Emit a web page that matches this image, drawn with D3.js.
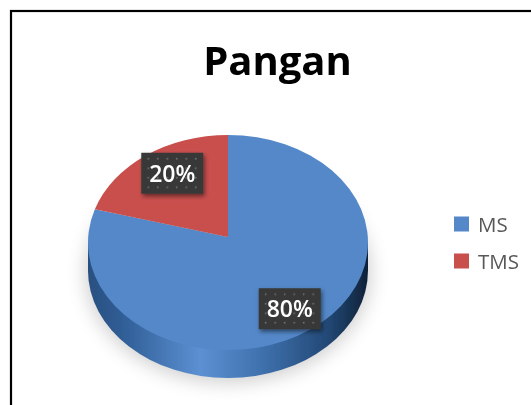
<!DOCTYPE html>
<html><head><meta charset="utf-8">
<script src="https://cdn.jsdelivr.net/npm/d3@7"></script>
<style>html,body{margin:0;padding:0;background:#fff;overflow:hidden}svg{display:block}
text{font-family:"Open Sans","Noto Sans",sans-serif}</style></head><body>
<script>
const chartTitle = "Pangan";
const categories = ["MS", "TMS"];
const seriesValues = [80, 20];
const seriesColors = ["#5488c9", "#c9504e"];

const W = 531, H = 405, cx = 228, cy = 242.5, apexY = 237, rx = 140, ry = 107.5, depth = 28;
const svg = d3.select("body").append("svg").attr("width", W).attr("height", H);
const defs = svg.append("defs");

const soft = defs.append("filter").attr("id", "soft").attr("x", "-5%").attr("y", "-5%").attr("width", "110%").attr("height", "110%");
soft.append("feGaussianBlur").attr("stdDeviation", 0.55);
const sh = defs.append("filter").attr("id", "pieShadow").attr("x", "-30%").attr("y", "-30%").attr("width", "160%").attr("height", "160%");
sh.append("feGaussianBlur").attr("stdDeviation", 10);
const ls = defs.append("filter").attr("id", "labelShadow").attr("x", "-30%").attr("y", "-30%").attr("width", "160%").attr("height", "160%");
ls.append("feDropShadow").attr("dx", 1.5).attr("dy", 2.5).attr("stdDeviation", 2).attr("flood-color", "#000").attr("flood-opacity", 0.5);

const grad = defs.append("linearGradient").attr("id", "side").attr("gradientUnits", "userSpaceOnUse")
  .attr("x1", cx - rx).attr("x2", cx + rx).attr("y1", 0).attr("y2", 0);
[[0, "#2a5080"], [0.12, "#2f5d95"], [0.4, "#5b90d2"], [0.62, "#3f71ad"], [0.85, "#234a78"], [1, "#0f2238"]]
  .forEach(([o, c]) => grad.append("stop").attr("offset", o).attr("stop-color", c));

const dots = defs.append("pattern").attr("id", "dots").attr("patternUnits", "userSpaceOnUse").attr("width", 9.5).attr("height", 9.5);
dots.append("rect").attr("width", 9.5).attr("height", 9.5).attr("fill", "#383838");
dots.append("circle").attr("cx", 4.5).attr("cy", 4.5).attr("r", 0.9).attr("fill", "#6e6e6e");

// frame (left and top edges visible, the others run off the crop)
svg.append("rect").attr("x", 11).attr("y", 11).attr("width", W + 20).attr("height", H + 20)
  .attr("fill", "#fff").attr("stroke", "#000").attr("stroke-width", 2.2);

const root = svg.append("g").attr("filter", "url(#soft)");

root.append("text").attr("x", 277.5).attr("y", 75).attr("text-anchor", "middle")
  .attr("font-size", 40).attr("font-weight", 700).attr("fill", "#000").text(chartTitle);

// ground shadow
root.append("ellipse").attr("cx", cx).attr("cy", cy + depth + 2).attr("rx", rx + 2).attr("ry", ry + 2)
  .attr("fill", "#000").attr("opacity", 0.2).attr("filter", "url(#pieShadow)");

// pie side wall
root.append("path")
  .attr("d", `M${cx - rx},${cy}V${cy + depth}A${rx},${ry} 0 0 0 ${cx + rx},${cy + depth}V${cy}Z`)
  .attr("fill", "url(#side)");

// pie top face: elliptical rim, with the perspective apex slightly above the rim's centre
const pie = d3.pie().sort(null)(seriesValues);
const rim = (a) => [cx + rx * Math.sin(a), cy - ry * Math.cos(a)];
const slicePath = (d) => {
  const [x0, y0] = rim(d.startAngle), [x1, y1] = rim(d.endAngle);
  const large = d.endAngle - d.startAngle > Math.PI ? 1 : 0;
  return `M${cx},${apexY}L${x0},${y0}A${rx},${ry} 0 ${large} 1 ${x1},${y1}Z`;
};
root.append("g").selectAll("path").data(pie).join("path")
  .attr("d", slicePath).attr("fill", (d, i) => seriesColors[i]);

// data labels
const labelArc = d3.arc().innerRadius(0.75).outerRadius(0.75);
const nudge = [[0, 1], [6, -4]];
const bw = 62, bh = 41;
const labels = root.selectAll("g.label").data(pie).join("g").attr("class", "label")
  .attr("transform", (d, i) => {
    const [x, y] = labelArc.centroid(d);
    return `translate(${cx + x * rx + nudge[i][0]},${cy + y * ry + nudge[i][1]})`;
  });
labels.append("rect").attr("x", -bw / 2).attr("y", -bh / 2).attr("width", bw).attr("height", bh)
  .attr("fill", "url(#dots)").attr("filter", "url(#labelShadow)");
labels.append("text").attr("text-anchor", "middle").attr("y", 8.5).attr("font-size", 23)
  .attr("font-weight", 600).attr("fill", "#fff").text((d) => d.value + "%");

// legend
const legendY = d3.scalePoint().domain(categories).range([224, 261]);
const legend = root.selectAll("g.legend").data(categories).join("g").attr("class", "legend")
  .attr("transform", (d) => `translate(454,${legendY(d)})`);
legend.append("rect").attr("y", -7.5).attr("width", 15).attr("height", 15)
  .attr("fill", (d, i) => seriesColors[i]);
legend.append("text").attr("x", 24).attr("y", 7.5).attr("font-size", 20.5).attr("fill", "#595959").text((d) => d);
</script></body></html>
